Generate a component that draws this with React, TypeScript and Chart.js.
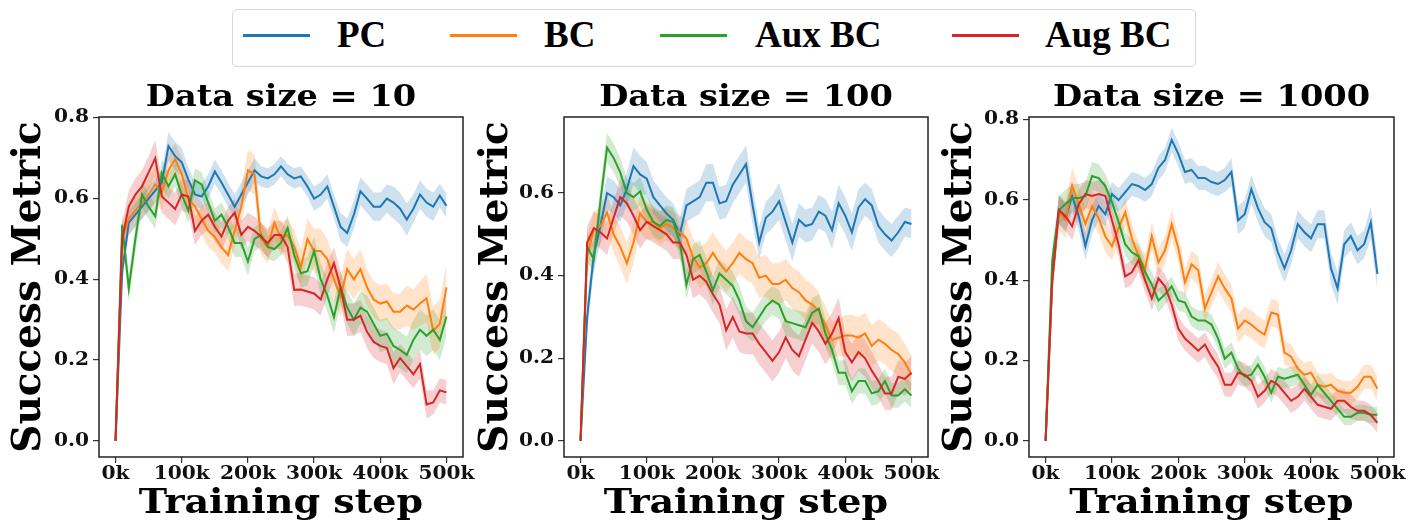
import React, { useEffect, useRef } from "react";
import { Chart, registerables } from "chart.js";

Chart.register(...registerables);

// Training steps in thousands
const steps = [
  0, 10, 20, 30, 40, 50, 60, 70, 80, 90,
  100, 110, 120, 130, 140, 150, 160, 170, 180, 190,
  200, 210, 220, 230, 240, 250, 260, 270, 280, 290,
  300, 310, 320, 330, 340, 350, 360, 370, 380, 390,
  400, 410, 420, 430, 440, 450, 460, 470, 480, 490,
  500,
];
const xTicks = [0, 100, 200, 300, 400, 500];
const yTicks08 = [0, 0.2, 0.4, 0.6, 0.8];
const yTicks06 = [0, 0.2, 0.4, 0.6];

const seriesNames = ["PC", "BC", "Aux BC", "Aug BC"];
const seriesColors = ["#1f77b4", "#ff7f0e", "#2ca02c", "#d62728"];
const bandColors = [
  "rgba(31,119,180,0.22)",
  "rgba(255,127,14,0.22)",
  "rgba(44,160,44,0.22)",
  "rgba(214,39,40,0.22)",
];

// ---- Data size = 10 ----
const pc10 = [
  0, 0.42, 0.54, 0.56, 0.58, 0.60, 0.62, 0.64, 0.73, 0.705,
  0.69, 0.647, 0.61, 0.605, 0.63, 0.667, 0.64, 0.61, 0.58, 0.61,
  0.64, 0.67, 0.655, 0.65, 0.66, 0.68, 0.66, 0.65, 0.655, 0.63,
  0.60, 0.61, 0.63, 0.58, 0.53, 0.515, 0.56, 0.618, 0.60, 0.58,
  0.58, 0.60, 0.59, 0.575, 0.548, 0.575, 0.61, 0.59, 0.58, 0.607,
  0.582,
];
const bc10 = [
  0, 0.50, 0.55, 0.57, 0.59, 0.61, 0.635, 0.615, 0.67, 0.698,
  0.66, 0.60, 0.58, 0.55, 0.52, 0.505, 0.48, 0.46, 0.52, 0.58,
  0.67, 0.66, 0.50, 0.48, 0.54, 0.50, 0.51, 0.48, 0.43, 0.50,
  0.47, 0.47, 0.45, 0.40, 0.357, 0.425, 0.40, 0.425, 0.38, 0.35,
  0.34, 0.345, 0.32, 0.32, 0.335, 0.325, 0.34, 0.353, 0.273, 0.29,
  0.38,
];
const aux10 = [
  0, 0.535, 0.378, 0.50, 0.61, 0.58, 0.556, 0.663, 0.63, 0.66,
  0.61, 0.57, 0.645, 0.635, 0.59, 0.545, 0.56, 0.53, 0.49, 0.49,
  0.444, 0.50, 0.51, 0.48, 0.475, 0.49, 0.527, 0.46, 0.415, 0.42,
  0.47, 0.40, 0.36, 0.306, 0.38, 0.33, 0.30, 0.33, 0.32, 0.29,
  0.26, 0.265, 0.235, 0.225, 0.213, 0.25, 0.275, 0.26, 0.275, 0.25,
  0.308,
];
const aug10 = [
  0, 0.50, 0.58, 0.61, 0.63, 0.665, 0.70, 0.605, 0.59, 0.574,
  0.61, 0.605, 0.52, 0.545, 0.56, 0.53, 0.506, 0.545, 0.565, 0.51,
  0.53, 0.52, 0.505, 0.49, 0.51, 0.51, 0.48, 0.374, 0.375, 0.37,
  0.365, 0.35, 0.40, 0.44, 0.38, 0.30, 0.30, 0.31, 0.27, 0.245,
  0.235, 0.23, 0.18, 0.205, 0.185, 0.165, 0.19, 0.09, 0.095, 0.125,
  0.12,
];
const pc10Spread = [
  0, 0.03, 0.03, 0.03, 0.03, 0.03, 0.03, 0.03, 0.035, 0.035,
  0.035, 0.03, 0.03, 0.03, 0.03, 0.03, 0.03, 0.03, 0.03, 0.03,
  0.03, 0.03, 0.025, 0.025, 0.025, 0.025, 0.025, 0.025, 0.025, 0.025,
  0.03, 0.03, 0.03, 0.03, 0.035, 0.035, 0.035, 0.035, 0.035, 0.035,
  0.035, 0.035, 0.04, 0.04, 0.04, 0.035, 0.035, 0.035, 0.035, 0.03,
  0.03,
];
const bc10Spread = [
  0, 0.04, 0.04, 0.04, 0.04, 0.04, 0.045, 0.045, 0.04, 0.04,
  0.04, 0.04, 0.04, 0.04, 0.04, 0.04, 0.04, 0.04, 0.04, 0.045,
  0.05, 0.05, 0.04, 0.04, 0.04, 0.04, 0.04, 0.04, 0.045, 0.05,
  0.055, 0.055, 0.05, 0.05, 0.05, 0.05, 0.05, 0.05, 0.045, 0.045,
  0.045, 0.045, 0.045, 0.045, 0.05, 0.05, 0.055, 0.06, 0.06, 0.06,
  0.06,
];
const aux10Spread = [
  0, 0.03, 0.035, 0.035, 0.035, 0.03, 0.03, 0.035, 0.03, 0.03,
  0.03, 0.03, 0.03, 0.03, 0.03, 0.03, 0.03, 0.03, 0.035, 0.035,
  0.035, 0.03, 0.03, 0.03, 0.03, 0.03, 0.03, 0.035, 0.035, 0.035,
  0.035, 0.04, 0.04, 0.04, 0.04, 0.04, 0.04, 0.04, 0.04, 0.04,
  0.04, 0.04, 0.045, 0.045, 0.045, 0.05, 0.05, 0.05, 0.05, 0.05,
  0.05,
];
const aug10Spread = [
  0, 0.04, 0.04, 0.04, 0.04, 0.04, 0.045, 0.04, 0.04, 0.04,
  0.04, 0.04, 0.035, 0.035, 0.035, 0.035, 0.035, 0.035, 0.035, 0.035,
  0.035, 0.035, 0.035, 0.035, 0.035, 0.035, 0.04, 0.04, 0.04, 0.04,
  0.04, 0.04, 0.04, 0.04, 0.04, 0.04, 0.04, 0.04, 0.04, 0.04,
  0.04, 0.04, 0.04, 0.035, 0.035, 0.035, 0.035, 0.035, 0.03, 0.03,
  0.03,
];

// ---- Data size = 100 ----
const pc100 = [
  0, 0.30, 0.45, 0.52, 0.60, 0.59, 0.57, 0.61, 0.665, 0.645,
  0.635, 0.59, 0.57, 0.55, 0.535, 0.50, 0.57, 0.58, 0.59, 0.625,
  0.625, 0.575, 0.58, 0.62, 0.645, 0.67, 0.57, 0.48, 0.54, 0.555,
  0.58, 0.53, 0.48, 0.535, 0.52, 0.525, 0.555, 0.545, 0.51, 0.575,
  0.545, 0.505, 0.565, 0.585, 0.57, 0.52, 0.50, 0.485, 0.505, 0.53,
  0.525,
];
const bc100 = [
  0, 0.45, 0.51, 0.52, 0.553, 0.50, 0.47, 0.43, 0.48, 0.55,
  0.53, 0.53, 0.515, 0.525, 0.515, 0.505, 0.49, 0.445, 0.42, 0.43,
  0.455, 0.43, 0.41, 0.43, 0.455, 0.44, 0.43, 0.395, 0.40, 0.38,
  0.38, 0.39, 0.37, 0.36, 0.34, 0.33, 0.315, 0.28, 0.244, 0.25,
  0.255, 0.255, 0.25, 0.26, 0.23, 0.245, 0.235, 0.22, 0.21, 0.19,
  0.16,
];
const aux100 = [
  0, 0.47, 0.44, 0.58, 0.71, 0.685, 0.65, 0.60, 0.59, 0.604,
  0.56, 0.53, 0.52, 0.535, 0.53, 0.48, 0.378, 0.44, 0.45, 0.41,
  0.365, 0.405, 0.39, 0.375, 0.34, 0.29, 0.275, 0.30, 0.325, 0.34,
  0.33, 0.29, 0.285, 0.28, 0.275, 0.31, 0.32, 0.26, 0.22, 0.165,
  0.165, 0.12, 0.145, 0.145, 0.115, 0.12, 0.145, 0.11, 0.11, 0.125,
  0.11,
];
const aug100 = [
  0, 0.48, 0.515, 0.505, 0.49, 0.54, 0.59, 0.575, 0.545, 0.51,
  0.53, 0.52, 0.51, 0.50, 0.48, 0.48, 0.45, 0.39, 0.40, 0.385,
  0.355, 0.33, 0.268, 0.30, 0.265, 0.26, 0.26, 0.235, 0.215, 0.194,
  0.215, 0.25, 0.22, 0.205, 0.245, 0.286, 0.265, 0.235, 0.26, 0.297,
  0.215, 0.19, 0.215, 0.20, 0.17, 0.145, 0.115, 0.115, 0.155, 0.15,
  0.165,
];
const pc100Spread = [
  0, 0.04, 0.04, 0.04, 0.04, 0.04, 0.04, 0.04, 0.045, 0.045,
  0.04, 0.04, 0.04, 0.04, 0.04, 0.04, 0.04, 0.04, 0.04, 0.045,
  0.045, 0.04, 0.04, 0.045, 0.045, 0.045, 0.045, 0.04, 0.04, 0.04,
  0.045, 0.045, 0.045, 0.04, 0.04, 0.04, 0.04, 0.04, 0.045, 0.045,
  0.045, 0.045, 0.045, 0.04, 0.04, 0.04, 0.04, 0.04, 0.04, 0.035,
  0.035,
];
const bc100Spread = [
  0, 0.045, 0.045, 0.045, 0.045, 0.045, 0.05, 0.05, 0.05, 0.045,
  0.045, 0.04, 0.04, 0.04, 0.04, 0.04, 0.045, 0.045, 0.05, 0.05,
  0.05, 0.05, 0.05, 0.05, 0.05, 0.05, 0.05, 0.05, 0.05, 0.05,
  0.05, 0.05, 0.05, 0.05, 0.05, 0.05, 0.045, 0.045, 0.045, 0.045,
  0.05, 0.05, 0.05, 0.05, 0.05, 0.05, 0.05, 0.05, 0.05, 0.045,
  0.045,
];
const aux100Spread = [
  0, 0.035, 0.035, 0.035, 0.035, 0.035, 0.035, 0.035, 0.035, 0.035,
  0.035, 0.035, 0.035, 0.035, 0.035, 0.035, 0.035, 0.035, 0.035, 0.035,
  0.035, 0.035, 0.035, 0.035, 0.035, 0.035, 0.035, 0.035, 0.035, 0.035,
  0.035, 0.035, 0.035, 0.035, 0.035, 0.035, 0.035, 0.035, 0.03, 0.03,
  0.03, 0.03, 0.03, 0.03, 0.03, 0.03, 0.03, 0.03, 0.03, 0.03,
  0.03,
];
const aug100Spread = [
  0, 0.04, 0.04, 0.04, 0.04, 0.04, 0.045, 0.045, 0.045, 0.045,
  0.04, 0.04, 0.04, 0.04, 0.04, 0.04, 0.045, 0.045, 0.045, 0.045,
  0.045, 0.045, 0.05, 0.05, 0.05, 0.05, 0.05, 0.05, 0.05, 0.05,
  0.05, 0.05, 0.05, 0.05, 0.05, 0.05, 0.05, 0.05, 0.05, 0.05,
  0.045, 0.045, 0.045, 0.045, 0.045, 0.04, 0.04, 0.04, 0.04, 0.04,
  0.04,
];

// ---- Data size = 1000 ----
const pc1000 = [
  0, 0.40, 0.575, 0.555, 0.61, 0.56, 0.485, 0.55, 0.585, 0.565,
  0.615, 0.60, 0.62, 0.64, 0.635, 0.625, 0.64, 0.68, 0.70, 0.75,
  0.715, 0.67, 0.675, 0.655, 0.655, 0.645, 0.64, 0.65, 0.67, 0.55,
  0.565, 0.627, 0.58, 0.545, 0.53, 0.47, 0.43, 0.475, 0.54, 0.52,
  0.505, 0.54, 0.54, 0.43, 0.38, 0.49, 0.51, 0.475, 0.49, 0.544,
  0.416,
];
const bc1000 = [
  0, 0.40, 0.57, 0.55, 0.635, 0.59, 0.54, 0.585, 0.555, 0.51,
  0.485, 0.53, 0.57, 0.505, 0.46, 0.43, 0.51, 0.445, 0.475, 0.54,
  0.48, 0.395, 0.44, 0.425, 0.33, 0.37, 0.41, 0.38, 0.355, 0.28,
  0.30, 0.29, 0.275, 0.265, 0.32, 0.315, 0.22, 0.21, 0.18, 0.165,
  0.17, 0.14, 0.135, 0.14, 0.125, 0.12, 0.12, 0.135, 0.16, 0.16,
  0.13,
];
const aux1000 = [
  0, 0.45, 0.575, 0.59, 0.605, 0.605, 0.61, 0.66, 0.655, 0.635,
  0.595, 0.545, 0.49, 0.47, 0.46, 0.42, 0.39, 0.35, 0.365, 0.385,
  0.35, 0.345, 0.31, 0.30, 0.30, 0.29, 0.255, 0.205, 0.22, 0.18,
  0.16, 0.165, 0.19, 0.16, 0.12, 0.16, 0.155, 0.16, 0.165, 0.14,
  0.115, 0.14, 0.12, 0.10, 0.08, 0.06, 0.06, 0.07, 0.07, 0.065,
  0.065,
];
const aug1000 = [
  0, 0.40, 0.575, 0.56, 0.535, 0.59, 0.615, 0.61, 0.615, 0.61,
  0.55, 0.49, 0.41, 0.42, 0.45, 0.40, 0.355, 0.405, 0.385, 0.34,
  0.28, 0.255, 0.24, 0.225, 0.24, 0.21, 0.185, 0.14, 0.14, 0.17,
  0.165, 0.15, 0.11, 0.125, 0.15, 0.14, 0.12, 0.10, 0.11, 0.13,
  0.11, 0.09, 0.085, 0.08, 0.10, 0.10, 0.085, 0.075, 0.075, 0.065,
  0.045,
];
const pc1000Spread = [
  0, 0.03, 0.035, 0.035, 0.035, 0.035, 0.035, 0.035, 0.035, 0.03,
  0.03, 0.03, 0.03, 0.03, 0.03, 0.03, 0.03, 0.03, 0.03, 0.03,
  0.03, 0.03, 0.03, 0.03, 0.03, 0.03, 0.03, 0.03, 0.035, 0.035,
  0.035, 0.035, 0.035, 0.035, 0.035, 0.035, 0.035, 0.035, 0.035, 0.035,
  0.035, 0.035, 0.035, 0.04, 0.04, 0.035, 0.035, 0.035, 0.035, 0.04,
  0.04,
];
const bc1000Spread = [
  0, 0.04, 0.045, 0.045, 0.045, 0.045, 0.045, 0.04, 0.04, 0.04,
  0.035, 0.035, 0.035, 0.035, 0.035, 0.035, 0.035, 0.035, 0.035, 0.035,
  0.035, 0.035, 0.035, 0.035, 0.035, 0.035, 0.035, 0.035, 0.035, 0.035,
  0.035, 0.035, 0.035, 0.035, 0.035, 0.035, 0.03, 0.03, 0.03, 0.03,
  0.03, 0.03, 0.03, 0.03, 0.03, 0.03, 0.03, 0.03, 0.03, 0.03,
  0.03,
];
const aux1000Spread = [
  0, 0.035, 0.035, 0.035, 0.035, 0.035, 0.035, 0.035, 0.035, 0.03,
  0.03, 0.03, 0.03, 0.03, 0.03, 0.03, 0.03, 0.03, 0.025, 0.025,
  0.025, 0.025, 0.025, 0.025, 0.025, 0.025, 0.025, 0.025, 0.025, 0.025,
  0.025, 0.025, 0.025, 0.025, 0.025, 0.025, 0.025, 0.025, 0.025, 0.025,
  0.025, 0.025, 0.025, 0.02, 0.02, 0.02, 0.02, 0.02, 0.02, 0.02,
  0.02,
];
const aug1000Spread = [
  0, 0.035, 0.035, 0.035, 0.035, 0.035, 0.035, 0.035, 0.035, 0.035,
  0.035, 0.03, 0.03, 0.03, 0.03, 0.03, 0.03, 0.03, 0.03, 0.03,
  0.03, 0.03, 0.03, 0.03, 0.03, 0.03, 0.03, 0.03, 0.03, 0.03,
  0.03, 0.03, 0.03, 0.03, 0.03, 0.03, 0.03, 0.03, 0.03, 0.03,
  0.03, 0.03, 0.03, 0.03, 0.03, 0.03, 0.03, 0.025, 0.025, 0.025,
  0.025,
];

const SERIF = "'DejaVu Serif', serif";
// the reference's horizontal text is slightly wide; stretch unrotated canvas text by this factor
const TEXT_STRETCH = 1.12;

type PanelCfg = {
  title: string;
  means: number[][];
  spreads: number[][];
  yMin: number;
  yMax: number;
  yTicks: number[];
  canvasLeft: number;
  canvasWidth: number;
  yWidth: number;
  padRight: number;
  yTitlePad: number;
};

const panels: PanelCfg[] = [
  {
    title: "Data size = 10",
    means: [pc10, bc10, aux10, aug10],
    spreads: [pc10Spread, bc10Spread, aux10Spread, aug10Spread],
    yMin: -0.04,
    yMax: 0.802,
    yTicks: yTicks08,
    canvasLeft: 0,
    canvasWidth: 483,
    yWidth: 99,
    padRight: 20,
    yTitlePad: 10,
  },
  {
    title: "Data size = 100",
    means: [pc100, bc100, aux100, aug100],
    spreads: [pc100Spread, bc100Spread, aux100Spread, aug100Spread],
    yMin: -0.039,
    yMax: 0.784,
    yTicks: yTicks06,
    canvasLeft: 466,
    canvasWidth: 482,
    yWidth: 98,
    padRight: 20,
    yTitlePad: 11,
  },
  {
    title: "Data size = 1000",
    means: [pc1000, bc1000, aux1000, aug1000],
    spreads: [pc1000Spread, bc1000Spread, aux1000Spread, aug1000Spread],
    yMin: -0.04,
    yMax: 0.807,
    yTicks: yTicks08,
    canvasLeft: 932,
    canvasWidth: 476,
    yWidth: 97,
    padRight: 14,
    yTitlePad: 9,
  },
];

const framePlugin = {
  id: "frame",
  afterDraw(chart: any) {
    const { ctx, chartArea } = chart;
    ctx.save();
    ctx.strokeStyle = "#222";
    ctx.lineWidth = 1.5;
    ctx.strokeRect(chartArea.left, chartArea.top, chartArea.right - chartArea.left, chartArea.bottom - chartArea.top);
    ctx.restore();
  },
};

const stretchPlugin = {
  id: "textStretch",
  beforeInit(chart: any) {
    const ctx: any = chart.ctx;
    if (ctx.__stretched) return;
    ctx.__stretched = true;
    const orig = ctx.fillText;
    ctx.fillText = function (text: string, x: number, y: number, maxWidth?: number) {
      const t = this.getTransform();
      if (Math.abs(t.b) < 1e-9 && Math.abs(t.c) < 1e-9) {
        this.save();
        this.translate(x, y);
        this.scale(TEXT_STRETCH, 1);
        if (maxWidth === undefined || maxWidth === null) orig.call(this, text, 0, 0);
        else orig.call(this, text, 0, 0, maxWidth / TEXT_STRETCH);
        this.restore();
      } else if (maxWidth === undefined || maxWidth === null) {
        orig.call(this, text, x, y);
      } else {
        orig.call(this, text, x, y, maxWidth);
      }
    };
  },
};

function Panel({ cfg }: { cfg: PanelCfg }) {
  const ref = useRef<HTMLCanvasElement>(null);
  useEffect(() => {
    if (!ref.current) return;
    const datasets: any[] = [];
    const lineOrder = [3, 2, 1, 0];
    lineOrder.forEach((i, k) => {
      datasets.push({
        label: seriesNames[i],
        data: steps.map((x, j) => ({ x, y: cfg.means[i][j] })),
        borderColor: seriesColors[i],
        backgroundColor: seriesColors[i],
        borderWidth: 2,
        pointRadius: 0,
        fill: false,
        order: k,
      });
    });
    for (let i = 0; i < 4; i++) {
      datasets.push({
        label: seriesNames[i] + " upper",
        data: steps.map((x, j) => ({ x, y: cfg.means[i][j] + cfg.spreads[i][j] })),
        borderColor: "rgba(0,0,0,0)",
        borderWidth: 0,
        pointRadius: 0,
        backgroundColor: bandColors[i],
        fill: "+1",
        order: 10,
      });
      datasets.push({
        label: seriesNames[i] + " lower",
        data: steps.map((x, j) => ({ x, y: cfg.means[i][j] - cfg.spreads[i][j] })),
        borderColor: "rgba(0,0,0,0)",
        borderWidth: 0,
        pointRadius: 0,
        fill: false,
        order: 10,
      });
    }
    const tickFont = { family: SERIF, size: 18, weight: "bold" as const };
    const chart = new Chart(ref.current, {
      type: "line",
      data: { datasets },
      options: {
        animation: false,
        responsive: false,
        maintainAspectRatio: false,
        layout: { padding: { left: 0, right: cfg.padRight, top: 0, bottom: 0 } },
        plugins: {
          legend: { display: false },
          tooltip: { enabled: false },
          title: {
            display: true,
            text: cfg.title,
            fullSize: false,
            color: "#000",
            font: { family: SERIF, size: 30, weight: "bold", lineHeight: 1 },
            padding: { top: 83, bottom: 4 },
          },
        },
        scales: {
          x: {
            type: "linear",
            min: -25,
            max: 525,
            afterBuildTicks: (s: any) => {
              s.ticks = xTicks.map((v) => ({ value: v }));
            },
            afterFit: (s: any) => {
              s.height = 71;
            },
            ticks: {
              autoSkip: false,
              maxRotation: 0,
              padding: 1,
              color: "#111",
              font: tickFont,
              callback: (v: any) => `${v}k`,
            },
            grid: { display: true, drawOnChartArea: false, drawTicks: true, tickLength: 6, color: "#333", lineWidth: 1.2 },
            border: { display: false },
            title: {
              display: true,
              text: "Training step",
              color: "#000",
              font: { family: SERIF, size: 34, weight: "bold", lineHeight: 1 },
              padding: { top: 0, bottom: 7 },
            },
          },
          y: {
            type: "linear",
            min: cfg.yMin,
            max: cfg.yMax,
            afterBuildTicks: (s: any) => {
              s.ticks = cfg.yTicks.map((v) => ({ value: v }));
            },
            afterFit: (s: any) => {
              s.width = cfg.yWidth;
            },
            ticks: {
              autoSkip: false,
              padding: 4,
              color: "#111",
              font: tickFont,
              callback: (v: any) => Number(v).toFixed(1),
            },
            grid: { display: true, drawOnChartArea: false, drawTicks: true, tickLength: 6, color: "#333", lineWidth: 1.2 },
            border: { display: false },
            title: {
              display: true,
              text: "Success Metric",
              color: "#000",
              font: { family: SERIF, size: 39, weight: "bold", lineHeight: 1 },
              padding: { top: cfg.yTitlePad, bottom: 0 },
            },
          },
        },
      } as any,
      plugins: [stretchPlugin, framePlugin],
    });
    return () => chart.destroy();
  }, [cfg]);
  return (
    <canvas
      ref={ref}
      width={cfg.canvasWidth}
      height={528}
      style={{ position: "absolute", left: cfg.canvasLeft, top: 0, width: cfg.canvasWidth, height: 528 }}
    />
  );
}

const legendLineX = [243, 450, 660, 952];
const legendTextX = [337, 544, 755, 1045];

function Legend() {
  return (
    <div>
      <div
        style={{
          position: "absolute",
          left: 232,
          top: 9,
          width: 964,
          height: 58,
          boxSizing: "border-box",
          border: "1.5px solid #d6d6d6",
          borderRadius: 5,
          background: "#fff",
        }}
      />
      {seriesNames.map((name, i) => (
        <React.Fragment key={name}>
          <div
            style={{
              position: "absolute",
              left: legendLineX[i],
              top: 34,
              width: 67,
              height: 2.5,
              background: seriesColors[i],
            }}
          />
          <span
            style={{
              position: "absolute",
              left: legendTextX[i],
              top: 16,
              fontFamily: "'Liberation Serif', serif",
              fontWeight: "bold",
              fontSize: 37,
              lineHeight: "37px",
              color: "#000",
              whiteSpace: "nowrap",
            }}
          >
            {name}
          </span>
        </React.Fragment>
      ))}
    </div>
  );
}

export default function App() {
  return (
    <div style={{ position: "fixed", left: 0, top: 0, width: 1408, height: 528, background: "#fff", overflow: "hidden" }}>
      {panels.map((p) => (
        <Panel key={p.title} cfg={p} />
      ))}
      <Legend />
    </div>
  );
}
